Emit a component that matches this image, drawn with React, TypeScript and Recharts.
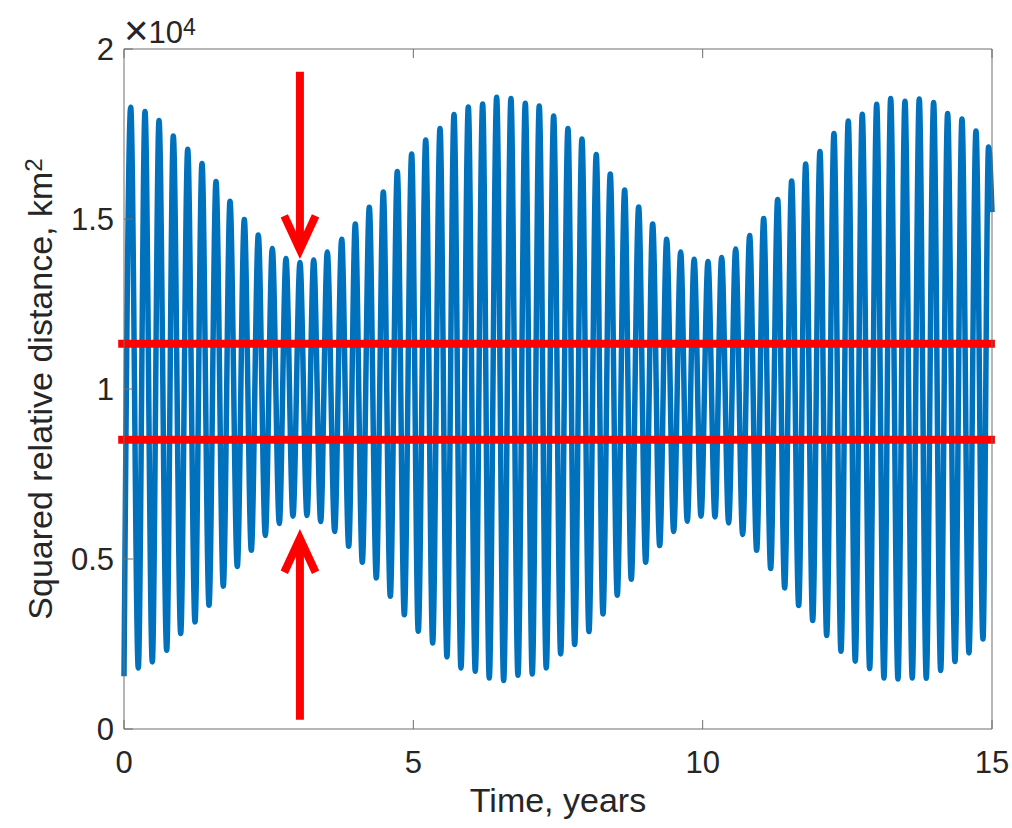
import { LineChart, Line, XAxis, YAxis, ReferenceLine, Label } from 'recharts';

const FONT = '"Liberation Sans", Arial, Helvetica, sans-serif';
const INK = '#262626';
const AXIS = '#6e6e6e';
const BLUE = '#0072BD';
const RED = '#FF0000';

// time in years, squared distance in km^2
const startPoint = { t: 0, v: 1550 };
const endPoint = { t: 15, v: 15200 };

const peakTimes = [
  0.116, 0.363, 0.605, 0.852, 1.101, 1.348, 1.59, 1.832, 2.079, 2.321, 2.563, 2.799, 3.041,
  3.278, 3.513, 3.762, 3.997, 4.239, 4.481, 4.723, 4.971, 5.214, 5.461, 5.703, 5.95, 6.198,
  6.44, 6.687, 6.935, 7.176, 7.425, 7.672, 7.914, 8.161, 8.403, 8.652, 8.894, 9.136, 9.378,
  9.62, 9.853, 10.092, 10.328, 10.57, 10.812, 11.054, 11.296, 11.538, 11.78, 12.027, 12.269,
  12.516, 12.758, 13.007, 13.249, 13.496, 13.743, 13.991, 14.233, 14.481, 14.723, 14.94,
];
const peakValues = [
  18288, 18161, 17896, 17443, 17052, 16632, 16102, 15523, 14985, 14532, 14132, 13838, 13720,
  13797, 14032, 14405, 14856, 15347, 15796, 16396, 16914, 17326, 17661, 18073, 18297, 18385,
  18582, 18544, 18405, 18326, 18032, 17661, 17355, 16896, 16326, 15855, 15355, 14855, 14405,
  14032, 13817, 13749, 13867, 14120, 14513, 15014, 15573, 16120, 16620, 16985, 17514, 17885,
  18082, 18376, 18544, 18464, 18532, 18426, 18102, 17944, 17590, 17120,
];
const troughTimes = [
  0.247, 0.489, 0.738, 0.98, 1.227, 1.469, 1.716, 1.958, 2.2, 2.442, 2.684, 2.92, 3.162,
  3.399, 3.641, 3.883, 4.118, 4.36, 4.602, 4.844, 5.085, 5.334, 5.581, 5.823, 6.07, 6.312,
  6.561, 6.808, 7.055, 7.297, 7.546, 7.788, 8.035, 8.277, 8.524, 8.766, 9.015, 9.257, 9.499,
  9.734, 9.971, 10.213, 10.449, 10.691, 10.933, 11.175, 11.417, 11.659, 11.901, 12.143, 12.39,
  12.637, 12.886, 13.133, 13.375, 13.622, 13.864, 14.113, 14.36, 14.602, 14.844,
];
const troughValues = [
  1797, 1973, 2318, 2809, 3150, 3641, 4200, 4779, 5258, 5691, 6044, 6258, 6279, 6103, 5808,
  5376, 4906, 4444, 3906, 3357, 2876, 2532, 2121, 1797, 1700, 1503, 1426, 1582, 1621, 1797,
  2209, 2485, 2867, 3385, 3935, 4406, 4906, 5397, 5808, 6112, 6258, 6238, 6062, 5720, 5258,
  4720, 4150, 3632, 3191, 2750, 2288, 1994, 1779, 1503, 1473, 1503, 1494, 1720, 1985, 2238,
  2650,
];

// red markers
const levelValues = [11330, 8510];
const arrowTime = 3.04;
const arrowHalfWidth = 0.27;
const topArrow = { tail: 19330, tip: 14100, wings: 15090 };
const bottomArrow = { tail: 273, tip: 5600, wings: 4610 };

const xTicks = [0, 5, 10, 15];
const yTicks = [0, 5000, 10000, 15000, 20000];

const series: { t: number; v: number }[] = [startPoint];
peakTimes.forEach((t, i) => {
  series.push({ t, v: peakValues[i] });
  if (i < troughTimes.length) series.push({ t: troughTimes[i], v: troughValues[i] });
});
series.push(endPoint);

const shaft = (a: { tail: number; tip: number }) => [
  { t: arrowTime, v: a.tail },
  { t: arrowTime, v: a.tip },
];
const head = (a: { tip: number; wings: number }) => [
  { t: arrowTime - arrowHalfWidth, v: a.wings },
  { t: arrowTime, v: a.tip },
  { t: arrowTime + arrowHalfWidth, v: a.wings },
];

const BottomTick = ({ x, y, payload }: any) => (
  <g>
    <line x1={x} x2={x} y1={y - 22} y2={y - 31} stroke={AXIS} strokeWidth={1} />
    <text x={x} y={y} dy="0.72em" textAnchor="middle" fontSize={31} fill={INK} fontFamily={FONT}>
      {payload.value}
    </text>
  </g>
);

const LeftTick = ({ x, y, payload }: any) => (
  <g>
    <line x1={x + 10} x2={x + 19} y1={y} y2={y} stroke={AXIS} strokeWidth={1} />
    <text x={x} y={y} dy="0.36em" textAnchor="end" fontSize={31} fill={INK} fontFamily={FONT}>
      {payload.value / 10000}
    </text>
  </g>
);

const TopTick = ({ x, y }: any) => (
  <line x1={x} x2={x} y1={y} y2={y + 9} stroke={AXIS} strokeWidth={1} />
);

const RightTick = ({ x, y }: any) => (
  <line x1={x} x2={x - 9} y1={y} y2={y} stroke={AXIS} strokeWidth={1} />
);

const XTitle = ({ viewBox }: any) => (
  <text
    x={viewBox.x + viewBox.width / 2}
    y={812}
    textAnchor="middle"
    fontSize={34}
    fill={INK}
    fontFamily={FONT}
  >
    Time, years
  </text>
);

const YTitle = ({ viewBox }: any) => {
  const cy = viewBox.y + viewBox.height / 2;
  return (
    <text
      x={52}
      y={cy}
      transform={`rotate(-90, 52, ${cy})`}
      textAnchor="middle"
      fontSize={34}
      fill={INK}
      fontFamily={FONT}
    >
      Squared relative distance, km
      <tspan dy="-0.42em" fontSize={24}>2</tspan>
    </text>
  );
};

const Exponent = ({ viewBox }: any) => (
  <text x={viewBox.x} y={43} fontSize={31} fill={INK} fontFamily={FONT}>
    <tspan fontSize={42} dy={2}>×</tspan>
    <tspan dy={-2}>10</tspan>
    <tspan dy="-0.36em" fontSize={23}>4</tspan>
  </text>
);

export default function App() {
  return (
    <div style={{ position: 'absolute', left: 0, top: 0, width: 1012, height: 828, background: '#fff' }}>
      <LineChart width={1012} height={828} data={series} margin={{ top: 48, right: 0, bottom: 0, left: 0 }}>
        <XAxis
          dataKey="t"
          type="number"
          domain={[0, 15]}
          ticks={xTicks}
          height={99}
          tickSize={0}
          tickMargin={22}
          tickLine={false}
          axisLine={{ stroke: AXIS, strokeWidth: 1 }}
          tick={BottomTick}
        >
          <Label content={XTitle} />
        </XAxis>
        <XAxis
          xAxisId="top"
          orientation="top"
          dataKey="t"
          type="number"
          domain={[0, 15]}
          ticks={xTicks}
          height={1}
          tickSize={0}
          tickMargin={0}
          tickLine={false}
          axisLine={{ stroke: AXIS, strokeWidth: 1 }}
          tick={TopTick}
        >
          <Label content={Exponent} />
        </XAxis>
        <YAxis
          type="number"
          domain={[0, 20000]}
          ticks={yTicks}
          width={124}
          tickSize={0}
          tickMargin={10}
          tickLine={false}
          axisLine={{ stroke: AXIS, strokeWidth: 1 }}
          tick={LeftTick}
        >
          <Label content={YTitle} />
        </YAxis>
        <YAxis
          yAxisId="right"
          orientation="right"
          type="number"
          domain={[0, 20000]}
          ticks={yTicks}
          width={20}
          tickSize={0}
          tickMargin={0}
          tickLine={false}
          axisLine={{ stroke: AXIS, strokeWidth: 1 }}
          tick={RightTick}
        />
        <Line
          dataKey="v"
          type="monotone"
          stroke={BLUE}
          strokeWidth={5.5}
          strokeLinejoin="round"
          dot={false}
          activeDot={false}
          isAnimationActive={false}
        />
        {levelValues.map((v) => (
          <ReferenceLine
            key={v}
            segment={[{ x: -0.1, y: v }, { x: 15.05, y: v }]}
            ifOverflow="visible"
            stroke={RED}
            strokeWidth={8}
          />
        ))}
        {[topArrow, bottomArrow].map((a, i) => (
          <Line
            key={`shaft${i}`}
            data={shaft(a)}
            dataKey="v"
            type="linear"
            stroke={RED}
            strokeWidth={8}
            dot={false}
            activeDot={false}
            isAnimationActive={false}
          />
        ))}
        {[topArrow, bottomArrow].map((a, i) => (
          <Line
            key={`head${i}`}
            data={head(a)}
            dataKey="v"
            type="linear"
            stroke={RED}
            strokeWidth={8}
            strokeLinejoin="miter"
            dot={false}
            activeDot={false}
            isAnimationActive={false}
          />
        ))}
      </LineChart>
    </div>
  );
}
